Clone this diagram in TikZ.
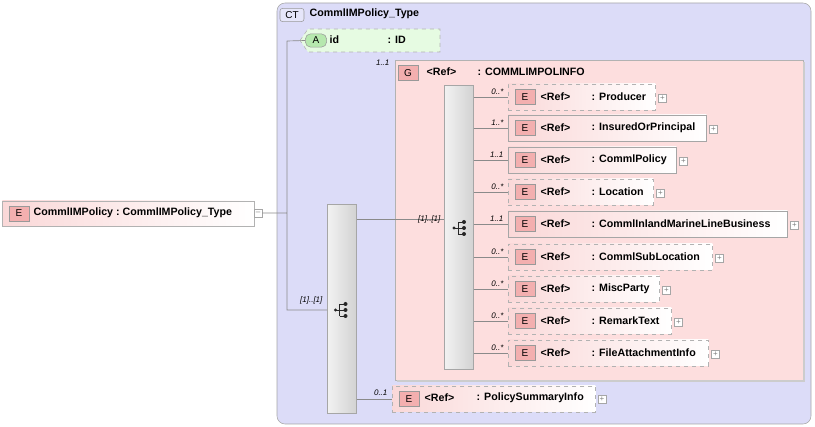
\documentclass[tikz,border=0pt]{standalone}
\usepackage{fontspec}
\setmainfont{Liberation Sans}
\usetikzlibrary{positioning,calc}
\definecolor{ctfill}{HTML}{DCDCF8}
\definecolor{grpfill}{HTML}{FDDEDE}
\definecolor{elfill}{HTML}{FAD8D8}
\definecolor{badge}{HTML}{F3AFAF}
\definecolor{attfill}{HTML}{E6FBE2}
\definecolor{attbadge}{HTML}{B6E8AE}
\definecolor{wire}{HTML}{8A8A8A}
\tikzset{
    x=0.75pt, y=-0.75pt,
    font=\fontsize{8}{9}\selectfont\bfseries,
    element/.style={draw=gray!70, left color=elfill, right color=white, anchor=west, minimum height=19.5pt, inner sep=0pt},
    optional/.style={element, dashed, draw=gray!60},
    tag/.style={draw=gray!80, fill=badge, font=\fontsize{7.5}{8}\selectfont, minimum width=15pt, minimum height=11pt, inner sep=0pt},
    plusbox/.style={draw=gray!70, fill=white, minimum size=6pt, inner sep=0pt, font=\fontsize{6}{6}\selectfont\mdseries, text=gray},
    occurs/.style={font=\fontsize{6}{6}\selectfont\itshape, anchor=south east, inner sep=1pt},
    seqbar/.style={draw=gray!70, left color=gray!10, right color=gray!35, anchor=north west, inner sep=0pt},
    wire/.style={draw=wire, line width=0.5pt}
}
\newcommand{\seqicon}[1]{%
    \fill[gray!30!black] ($(#1)+(-6,0)$) circle (1.6);
    \draw[gray!30!black, line width=0.6pt] ($(#1)+(-6,0)$) -- ($(#1)+(-2,0)$)
        ($(#1)+(-2,-6)$) -- ($(#1)+(-2,6)$)
        ($(#1)+(-2,-6)$) -- ($(#1)+(4,-6)$)
        ($(#1)+(-2,0)$) -- ($(#1)+(4,0)$)
        ($(#1)+(-2,6)$) -- ($(#1)+(4,6)$);
    \foreach \k in {-6,0,6} \fill[gray!30!black] ($(#1)+(4,\k)$) circle (2);}
\begin{document}
\begin{tikzpicture}
    \useasboundingbox (0,0) rectangle (815,427);
    % complex type container
    \draw[gray!70, fill=ctfill, rounded corners=6pt] (277,3) rectangle (811,424);
    \node[draw=gray!80, fill=ctfill!70, rounded corners=2pt, minimum width=18pt, minimum height=10pt, inner sep=0pt, font=\fontsize{7.5}{8}\selectfont] (ct) at (292,15) {CT};
    \node[anchor=west] (ctname) at (305,14) {CommlIMPolicy\_Type};
    % root element
    \node[element, minimum width=252*0.75pt, minimum height=25*0.75pt, draw=gray!60] (root) at (2,213.5) {};
    \node[tag] (roottag) at (19,213.5) {E};
    \node[anchor=west] at (29,213) {CommlIMPolicy\ :\ CommlIMPolicy\_Type};
    \node[plusbox] (rootminus) at (258,213) {--};
    % attribute
    \fill[attfill] (300,40.5) -- (308,29) -- (440,29) -- (440,52) -- (308,52) -- cycle;
    \draw[gray!60, dashed] (300,40.5) -- (308,29) -- (440,29) -- (440,52) -- (308,52) -- cycle;
    \node[draw=gray!80, fill=attbadge, rounded corners=4pt, minimum width=16pt, minimum height=10pt, inner sep=0pt, font=\fontsize{7.5}{8}\selectfont] (att) at (316,40.5) {A};
    \node[anchor=west] (idname) at (325,40) {id};
    \node[anchor=west] at (383,40) {: ID};
    % outer sequence
    \node[seqbar, minimum width=29*0.75pt, minimum height=209*0.75pt] (seq) at (327,204) {};
    \seqicon{341.5,310}
    \path[wire] (rootminus.east) -- (287,213) (287,41) -- (att.west) (287,41) -- (287,310) -- (seq.west |- 0,310);
    \node[occurs] at (324,306) {[1]..[1]};
    % group
    \draw[gray!60, fill=grpfill] (395,60) rectangle (803,380);
    \draw[gray!40, line width=1.5pt] (397,381) -- (804,381) -- (804,62);
    \node[occurs] at (391,67) {1..1};
    \node[tag] (grp) at (408,73) {G};
    \node[anchor=west] at (422,72) {<Ref>};
    \node[anchor=west] at (473,72) {: COMMLIMPOLINFO};
    % inner sequence
    \node[seqbar, minimum width=29*0.75pt, minimum height=284*0.75pt] (inseq) at (444,85) {};
    \seqicon{460,228}
    \path[wire] (seq.east |- 0,219) -- (inseq.west |- 0,219);
    \node[occurs] at (442,225) {[1]..[1]};
    % children
    \foreach \y/\nm/\w/\st/\oc [count=\i] in {
        97/Producer/147/optional/0..*,
        128/InsuredOrPrincipal/198/element/1..*,
        160/CommlPolicy/168/element/1..1,
        192/Location/145/optional/0..*,
        224/CommlInlandMarineLineBusiness/279/element/1..1,
        257/CommlSubLocation/204/optional/0..*,
        289/MiscParty/151/optional/0..*,
        321/RemarkText/163/optional/0..*,
        353/FileAttachmentInfo/200/optional/0..*}{
        \node[\st, minimum width=\w*0.75pt] (child\i) at (508,\y) {};
        \node[tag] (tag\i) at (525,\y) {E};
        \node[anchor=west] at (536,\y) {<Ref>};
        \node[anchor=west] at (587,\y) {: \nm};
        \node[plusbox] at ($(child\i.east)+(7,1)$) {+};
        \path[wire] (inseq.east |- child\i.west) -- (child\i.west);
        \node[occurs] at ($(child\i.west)+(-3,-1)$) {\oc};
    }
    % policy summary
    \node[optional, minimum width=203*0.75pt, minimum height=26*0.75pt] (summary) at (392,399) {};
    \node[tag] (sumtag) at (409,399) {E};
    \node[anchor=west] at (420,398) {<Ref>};
    \node[anchor=west] at (472,398) {: PolicySummaryInfo};
    \node[plusbox] at (602,399) {+};
    \path[wire] (seq.east |- summary.west) -- (summary.west);
    \node[occurs] at (389,397) {0..1};
\end{tikzpicture}
\end{document}
